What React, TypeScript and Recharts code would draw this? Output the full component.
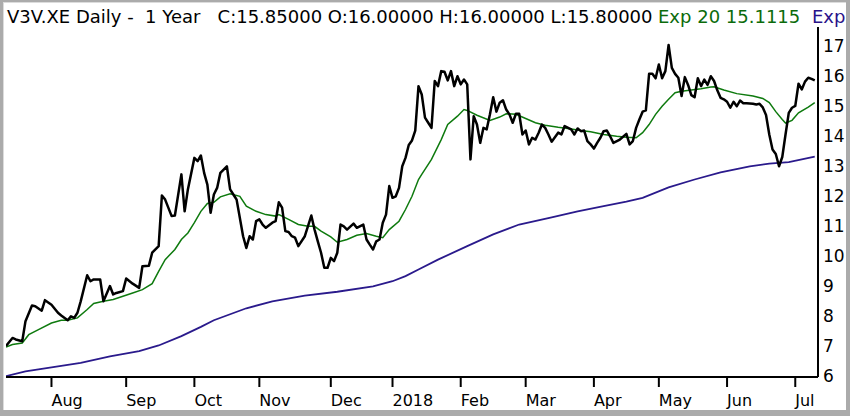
import React from 'react';
import { LineChart, Line, XAxis, YAxis } from 'recharts';

// trading-day index (0 = first session shown) and values
const priceDays = [
  0, 2, 3, 5, 6, 8, 9, 11, 12, 14, 16, 17, 19, 20, 21, 22, 23, 25, 26, 27, 29, 30, 32, 33, 34, 36, 37, 39, 41, 42,
  44, 45, 47, 48, 49, 51, 52, 54, 55, 56, 58, 59, 60, 61, 62, 63, 64, 65, 66, 68, 69, 70, 71, 73, 74, 75, 76, 77, 78, 79,
  80, 82, 83, 84, 85, 86, 87, 88, 89, 90, 92, 94, 95, 96, 97, 98, 99, 100, 101, 102, 103, 104, 105, 107, 108, 110, 111, 112, 113, 114,
  115, 116, 117, 118, 119, 120, 121, 122, 123, 124, 125, 126, 127, 128, 129, 130, 131, 132, 133, 134, 135, 136, 137, 138, 139, 140, 141, 142, 143, 144,
  145, 146, 147, 148, 149, 150, 151, 152, 153, 154, 155, 156, 157, 158, 159, 160, 161, 162, 163, 164, 165, 166, 167, 168, 170, 171, 172, 174, 175, 176,
  177, 178, 179, 180, 181, 182, 183, 184, 185, 186, 187, 189, 191, 192, 193, 194, 195, 196, 197, 198, 199, 200, 201, 202, 203, 204, 205, 206, 207, 208,
  209, 210, 211, 212, 213, 214, 215, 216, 217, 218, 219, 220, 221, 222, 223, 224, 225, 226, 227, 228, 230, 231, 232, 233, 234, 235, 236, 237, 238, 239,
  240, 241, 242, 243, 244, 245, 246, 247, 248, 249,
];
const priceClose = [
  7.0, 7.27, 7.22, 7.16, 7.83, 8.35, 8.33, 8.18, 8.53, 8.38, 8.11, 8.02, 7.86, 7.99, 7.94, 8.11, 8.49, 9.36, 9.16, 9.22, 9.22, 8.49, 9.0, 8.72, 8.77, 8.83, 9.25, 9.08, 8.94, 9.66,
  9.68, 10.11, 10.33, 12.02, 11.88, 11.33, 11.35, 12.72, 11.49, 12.22, 13.27, 13.16, 13.35, 12.77, 12.38, 11.44, 12.05, 12.27, 12.77, 12.99, 12.22, 12.05, 11.88, 10.66, 10.27, 10.66, 10.55, 11.16, 11.22, 11.05,
  10.94, 11.11, 11.16, 11.79, 11.61, 10.83, 10.8, 10.66, 10.61, 10.33, 10.66, 11.35, 10.88, 10.49, 10.11, 9.61, 9.61, 9.94, 9.83, 10.11, 11.05, 10.99, 10.88, 11.08, 10.94, 11.05, 10.55, 10.38, 10.22, 10.49,
  10.55, 11.11, 11.38, 12.33, 11.94, 11.99, 12.27, 12.99, 13.27, 13.7, 13.85, 14.18, 15.66, 15.38, 14.61, 14.44, 14.27, 15.83, 15.66, 16.16, 16.14, 15.85, 16.16, 15.66, 15.99, 15.72, 15.88, 15.72, 13.22, 14.66,
  14.38, 13.77, 14.27, 14.22, 14.72, 15.29, 14.81, 15.11, 15.19, 14.88, 14.72, 14.44, 14.74, 14.74, 14.05, 14.18, 13.72, 13.94, 13.88, 14.11, 14.38, 14.27, 14.05, 13.81, 14.11, 14.05, 14.33, 14.22, 14.05, 14.25,
  14.16, 14.18, 13.83, 13.72, 13.58, 13.77, 13.94, 14.16, 14.18, 13.99, 13.77, 13.88, 14.07, 13.72, 13.83, 14.27, 14.55, 14.81, 14.85, 16.07, 16.07, 15.92, 16.38, 15.92, 16.16, 17.03, 16.27, 16.07, 15.94, 15.33,
  15.96, 15.7, 15.36, 15.29, 15.92, 15.66, 15.88, 15.7, 15.99, 15.83, 15.52, 15.27, 15.22, 15.14, 14.94, 15.14, 14.99, 15.18, 15.09, 15.09, 15.07, 15.05, 15.07, 14.95, 14.7, 14.05, 13.55, 13.4, 12.99, 13.3,
  14.05, 14.77, 14.94, 15.0, 15.74, 15.55, 15.81, 15.94, 15.9, 15.85,
];

const ema20Days = [
  0, 2, 5, 7, 10, 14, 17, 19, 22, 25, 27, 30, 33, 36, 39, 42, 45, 47, 49, 52, 54, 56, 58, 60, 62, 64, 66, 69, 72, 74,
  77, 80, 83, 84, 87, 90, 93, 95, 97, 100, 102, 105, 108, 111, 114, 116, 118, 121, 123, 125, 127, 128, 131, 134, 136, 139, 141, 142, 145, 149,
  152, 154, 157, 160, 163, 166, 170, 173, 177, 180, 184, 188, 191, 194, 196, 198, 200, 202, 204, 206, 208, 211, 214, 217, 218, 221, 225, 230, 233, 235,
  237, 239, 240, 242, 244, 247, 249,
];
const ema20Values = [
  6.97, 7.05, 7.1, 7.38, 7.55, 7.77, 7.86, 7.86, 7.94, 8.22, 8.42, 8.49, 8.55, 8.66, 8.77, 8.88, 9.08, 9.49, 9.88, 10.22, 10.55, 10.77, 11.11, 11.49, 11.75, 11.79, 11.97, 12.07, 11.99, 11.66,
  11.49, 11.38, 11.33, 11.38, 11.22, 11.05, 10.99, 10.99, 10.83, 10.64, 10.46, 10.55, 10.69, 10.75, 10.66, 10.61, 10.88, 11.16, 11.55, 11.99, 12.55, 12.72, 13.22, 13.88, 14.38, 14.66, 14.88, 14.85, 14.69, 14.52,
  14.63, 14.74, 14.72, 14.58, 14.44, 14.36, 14.29, 14.25, 14.18, 14.14, 14.05, 13.99, 13.96, 13.94, 14.11, 14.38, 14.72, 14.99, 15.22, 15.44, 15.49, 15.53, 15.57, 15.63, 15.64, 15.53, 15.41, 15.33, 15.25, 15.11,
  14.81, 14.55, 14.43, 14.52, 14.77, 14.96, 15.11,
];

const emaLongDays = [0, 6, 14, 23, 32, 41, 47, 54, 60, 64, 74, 82, 92, 102, 113, 119, 123, 127, 133, 142, 150, 158, 168, 176, 184, 191, 196, 204, 212, 220, 229, 235, 241, 249];
const emaLongValues = [6.0, 6.16, 6.29, 6.44, 6.66, 6.83, 7.02, 7.33, 7.64, 7.86, 8.26, 8.49, 8.68, 8.81, 8.99, 9.16, 9.33, 9.55, 9.88, 10.33, 10.72, 11.05, 11.29, 11.49, 11.66, 11.81, 11.94, 12.29, 12.55, 12.79, 12.99, 13.08, 13.13, 13.31];

const monthTickDays = [14, 37, 58, 78, 100, 119, 140, 160, 181, 201, 222, 243];
const monthLabels = ['Aug', 'Sep', 'Oct', 'Nov', 'Dec', '2018', 'Feb', 'Mar', 'Apr', 'May', 'Jun', 'Jul'];
const priceTicks = [6, 7, 8, 9, 10, 11, 12, 13, 14, 15, 16, 17];

const priceData = priceDays.map((day, i) => ({ day, close: priceClose[i] }));
const ema20Data = ema20Days.map((day, i) => ({ day, ema20: ema20Values[i] }));
const emaLongData = emaLongDays.map((day, i) => ({ day, emaLong: emaLongValues[i] }));

const FONT = '"DejaVu Sans", Verdana, sans-serif';

const MonthTick = ({ x, y, payload }: any) => {
  const i = monthTickDays.indexOf(payload.value);
  return (
    <text x={x} y={y} dy={19} textAnchor="start" fontFamily={FONT} fontSize={16} fill="#000">
      {i >= 0 ? monthLabels[i] : ''}
    </text>
  );
};

const PriceTick = ({ x, y, payload }: any) => (
  <text x={x} y={y} dy="0.36em" textAnchor="start" fontFamily={FONT} fontSize={17} fill="#000">
    {payload.value}
  </text>
);

export default function App() {
  return (
    <div style={{ position: 'absolute', left: 0, top: 0, width: 850, height: 416, background: '#ababab' }}>
      <div
        style={{
          position: 'absolute',
          left: 3,
          top: 2,
          width: 843,
          height: 408,
          background: '#fff',
          boxShadow: 'inset 1px 1px 0 #dcdcdc',
        }}
      />
      <svg width={850} height={416} style={{ position: 'absolute', left: 0, top: 0 }}>
        <text x={7} y={23} fontFamily={FONT} fontSize={18} fill="#000" style={{ whiteSpace: 'pre' }}>
          {'V3V.XE Daily -  1 Year   C:15.85000 O:16.00000 H:16.00000 L:15.80000'}
        </text>
        <text x={658} y={23} fontFamily={FONT} fontSize={18} fill="#0b6b0b">
          Exp 20 15.1115
        </text>
        <text x={812} y={23} fontFamily={FONT} fontSize={18} fill="#2a128a">
          Exp
        </text>
      </svg>
      <div style={{ position: 'absolute', left: 0, top: 0 }}>
        <LineChart width={850} height={416} margin={{ top: 27, right: 0, bottom: 0, left: 6 }}>
          <XAxis
            dataKey="day"
            type="number"
            domain={[0, 250]}
            ticks={monthTickDays}
            allowDataOverflow
            height={39}
            axisLine={{ stroke: '#000', strokeWidth: 2 }}
            tickLine={{ stroke: '#000', strokeWidth: 2 }}
            tickSize={10}
            tickMargin={0}
            tick={<MonthTick />}
            interval={0}
          />
          <YAxis
            orientation="right"
            type="number"
            domain={[5.97, 17.63]}
            ticks={priceTicks}
            allowDataOverflow
            width={32}
            axisLine={{ stroke: '#000', strokeWidth: 2 }}
            tickLine={false}
            tickSize={0}
            tickMargin={5}
            tick={<PriceTick />}
            interval={0}
          />
          <Line
            data={emaLongData}
            dataKey="emaLong"
            type="linear"
            stroke="#2a1a8c"
            strokeWidth={1.8}
            dot={false}
            activeDot={false}
            isAnimationActive={false}
          />
          <Line
            data={ema20Data}
            dataKey="ema20"
            type="linear"
            stroke="#0e7a0e"
            strokeWidth={1.5}
            dot={false}
            activeDot={false}
            isAnimationActive={false}
          />
          <Line
            data={priceData}
            dataKey="close"
            type="linear"
            stroke="#000"
            strokeWidth={2.5}
            strokeLinejoin="round"
            dot={false}
            activeDot={false}
            isAnimationActive={false}
          />
        </LineChart>
      </div>
    </div>
  );
}
